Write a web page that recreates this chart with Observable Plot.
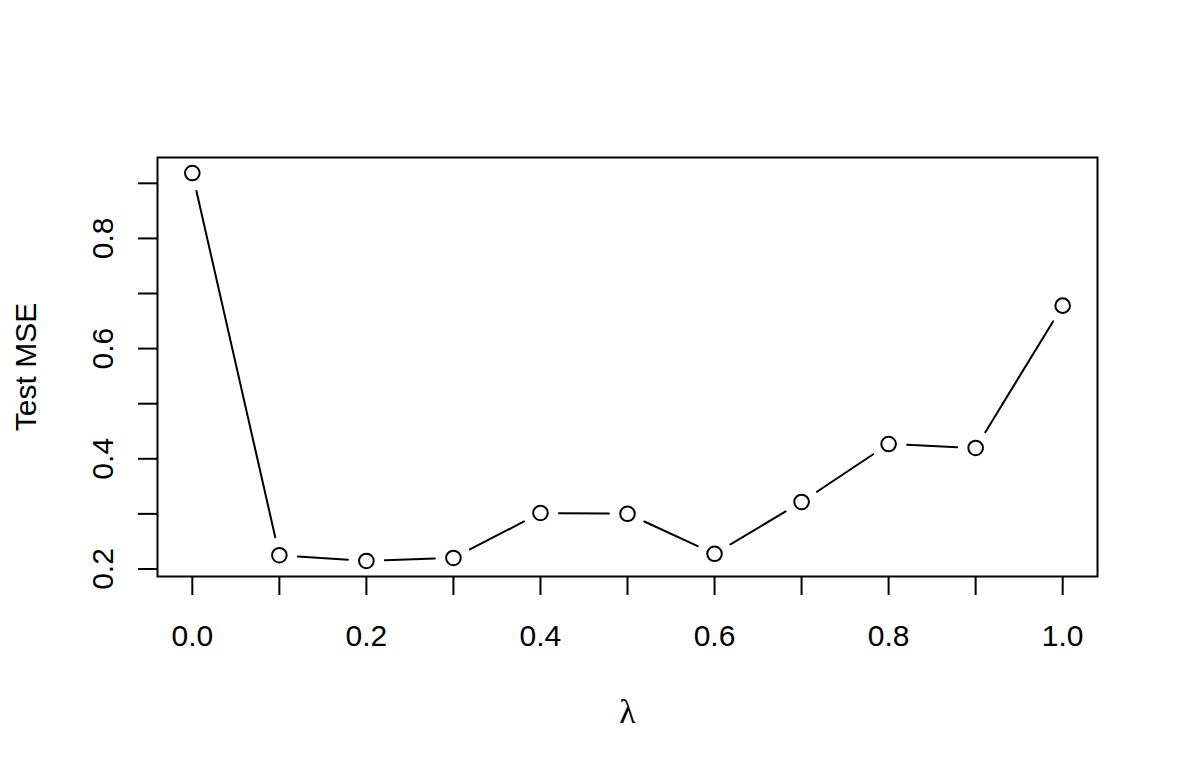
<!DOCTYPE html>
<html>
<head>
<meta charset="utf-8">
<script src="https://cdn.jsdelivr.net/npm/d3@7"></script>
<script src="https://cdn.jsdelivr.net/npm/@observablehq/plot@0.6"></script>
<style>
  html, body { margin: 0; padding: 0; background: #fff; }
  #chart svg { display: block; }
</style>
</head>
<body>
<div id="chart"></div>
<script>
// Data
const lambda = [0.0, 0.1, 0.2, 0.3, 0.4, 0.5, 0.6, 0.7, 0.8, 0.9, 1.0];
const testMSE = [0.9187, 0.2250, 0.2145, 0.2200, 0.3016, 0.3002, 0.2276, 0.3216, 0.4268, 0.4196, 0.6780];
const xTicks = [0.0, 0.1, 0.2, 0.3, 0.4, 0.5, 0.6, 0.7, 0.8, 0.9, 1.0];
const yTicks = [0.2, 0.3, 0.4, 0.5, 0.6, 0.7, 0.8, 0.9];
const xLabelTicks = [0.0, 0.2, 0.4, 0.6, 0.8, 1.0];
const yLabelTicks = [0.2, 0.4, 0.6, 0.8];
const xTitle = "λ";
const yTitle = "Test MSE";

const points = lambda.map((x, i) => ({x, y: testMSE[i]}));
const segments = points.slice(1).map((p, i) => ({x1: points[i].x, y1: points[i].y, x2: p.x, y2: p.y}));

// R-style 4% padding of the data range
function pad(ext) { const d = (ext[1] - ext[0]) * 0.04; return [ext[0] - d, ext[1] + d]; }
const xDomain = pad(d3.extent(lambda));
const yDomain = pad(d3.extent(testMSE));

const font = "'Liberation Sans', Arial, Helvetica, sans-serif";

const chart = Plot.plot({
  width: 1178,
  height: 772,
  marginLeft: 157,
  marginRight: 81,
  marginTop: 157,
  marginBottom: 196,
  style: {fontFamily: font, background: "#fff", color: "#000"},
  x: {domain: xDomain},
  y: {domain: yDomain},
  marks: [
    // tick marks only
    Plot.axisX({ticks: xTicks, tickSize: 19, strokeWidth: 2, fill: "none", label: null}),
    Plot.axisY({ticks: yTicks, tickSize: 19, strokeWidth: 2, fill: "none", label: null}),
    // tick labels only
    Plot.axisX({ticks: xLabelTicks, tickSize: 0, tickPadding: 48, tickFormat: ".1f",
      fontSize: 30, lineAnchor: "top", label: null}),
    Plot.axisY({ticks: yLabelTicks, tickSize: 0, tickPadding: 45, tickFormat: ".1f",
      fontSize: 30, tickRotate: -90, textAnchor: "middle", lineAnchor: "bottom", label: null}),
    Plot.frame({stroke: "#000", strokeWidth: 2}),
    Plot.arrow(segments, {x1: "x1", y1: "y1", x2: "x2", y2: "y2", headLength: 0,
      insetStart: 18.5, insetEnd: 18.5, stroke: "#000", strokeWidth: 2}),
    Plot.dot(points, {x: "x", y: "y", r: 7.3, stroke: "#000", fill: "#fff", strokeWidth: 2}),
    Plot.text([yTitle], {text: d => d, frameAnchor: "left", rotate: -90, textAnchor: "middle",
      lineAnchor: "bottom", dx: -122, fontSize: 30, fill: "#000"}),
    Plot.text([xTitle], {text: d => d, frameAnchor: "bottom", textAnchor: "middle",
      lineAnchor: "bottom", dy: 146, fontSize: 34, fill: "#000",
      fontFamily: "'Liberation Serif', 'DejaVu Serif', serif"})
  ]
});
document.getElementById("chart").appendChild(chart);
</script>
</body>
</html>
